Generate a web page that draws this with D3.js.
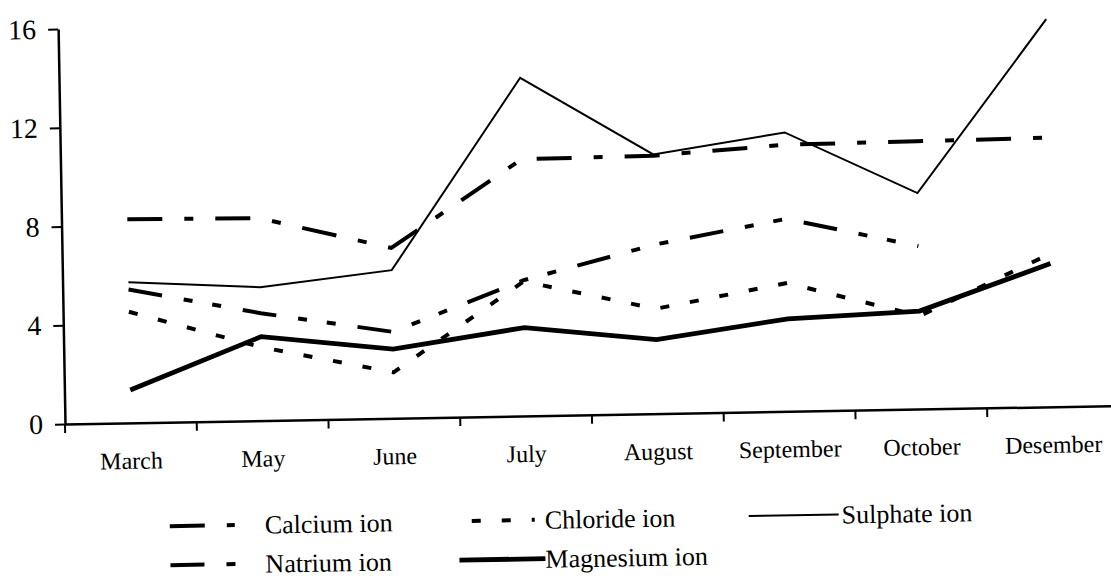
<!DOCTYPE html>
<html>
<head>
<meta charset="utf-8">
<script src="https://cdn.jsdelivr.net/npm/d3@7"></script>
<style>
  html, body { margin: 0; padding: 0; background: #fff; }
  svg { display: block; }
  svg text { font-family: "Liberation Serif", "Times New Roman", serif; }
</style>
</head>
<body>
<div id="chart"></div>
<script>
// Data
const categories = ["March", "May", "June", "July", "August", "September", "October", "Desember"];
const calcium   = [8.25, 8.2, 6.9, 10.4, 10.45, 10.8, 10.85, 10.9];
const natrium   = [5.4, 4.35, 3.5, 5.5, 6.85, 7.8, 6.6, null];
const chloride  = [4.5, 2.97, 1.86, 5.45, 4.25, 5.2, 3.77, 6.2];
const sulphate  = [5.7, 5.4, 6.0, 13.7, 10.5, 11.3, 8.75, 15.7];
const magnesium = [1.33, 3.4, 2.8, 3.58, 3.0, 3.75, 3.97, 5.8];
const yTicks = [0, 4, 8, 12, 16];

const width = 1111;
const height = 580;
const font = "'Liberation Serif', 'Times New Roman', serif";

const series = [
  { name: "Calcium ion",   values: calcium,   width: 4,   dash: "35,22,9,22" },
  { name: "Natrium ion",   values: natrium,   width: 4,   dash: "34,22,9,20,9,22" },
  { name: "Chloride ion",  values: chloride,  width: 4,   dash: "9,21" },
  { name: "Sulphate ion",  values: sulphate,  width: 2,   dash: null },
  { name: "Magnesium ion", values: magnesium, width: 4.8, dash: null }
];

const svg = d3.select("#chart").append("svg")
  .attr("width", width)
  .attr("height", height);

// the scan is tilted about one degree, so the whole figure is rotated around the origin
const g = svg.append("g")
  .attr("transform", "translate(65,424) rotate(-1.0)");

const plotW = 1054;
const plotH = 395;

const x = d3.scaleBand().domain(categories).range([0, plotW]);
const y = d3.scaleLinear().domain([0, 16]).range([0, -plotH]);

// y axis
const yAxis = g.append("g")
  .call(d3.axisLeft(y).tickValues(yTicks).tickSize(10).tickSizeOuter(0).tickPadding(12));
yAxis.select(".domain").attr("stroke", "#000").attr("stroke-width", 2.5);
yAxis.selectAll(".tick line").attr("stroke", "#000").attr("stroke-width", 2);
yAxis.selectAll(".tick text")
  .style("font-family", font)
  .style("font-size", "28px")
  .attr("fill", "#000");

// x axis (labels centred on bands, ticks on band boundaries)
const xAxis = g.append("g")
  .call(d3.axisBottom(x).tickSize(0).tickSizeOuter(0).tickPadding(29));
xAxis.select(".domain").attr("stroke", "#000").attr("stroke-width", 2.5);
xAxis.selectAll(".tick text")
  .style("font-family", font)
  .style("font-size", "24px")
  .attr("fill", "#000");

g.selectAll(".xtick")
  .data(categories)
  .join("line")
  .attr("class", "xtick")
  .attr("x1", d => x(d))
  .attr("x2", d => x(d))
  .attr("y1", 0)
  .attr("y2", 9)
  .attr("stroke", "#000")
  .attr("stroke-width", 2);

// lines
const line = d3.line()
  .defined(d => d != null)
  .x((d, i) => x(categories[i]) + x.bandwidth() / 2)
  .y(d => y(d));

series.forEach(s => {
  g.append("path")
    .datum(s.values)
    .attr("fill", "none")
    .attr("stroke", "#000")
    .attr("stroke-width", s.width)
    .attr("stroke-dasharray", s.dash)
    .attr("stroke-linejoin", "miter")
    .attr("d", line);
});

// legend (inside the tilted group, like the rest of the scan)
const legendItems = [
  { s: series[0], x1: 103, x2: 168, tx: 198, ty: 104 },
  { s: series[2], x1: 405, x2: 468, tx: 478, ty: 104 },
  { s: series[3], x1: 682, x2: 772, tx: 775, ty: 104 },
  { s: series[1], x1: 103, x2: 168, tx: 198, ty: 143 },
  { s: series[4], x1: 392, x2: 478, tx: 478, ty: 143 }
];

const legend = g.append("g");
legendItems.forEach(it => {
  legend.append("line")
    .attr("x1", it.x1)
    .attr("x2", it.x2)
    .attr("y1", it.ty)
    .attr("y2", it.ty)
    .attr("stroke", "#000")
    .attr("stroke-width", it.s.width)
    .attr("stroke-dasharray", it.s.dash);
  legend.append("text")
    .attr("x", it.tx)
    .attr("y", it.ty)
    .attr("dy", "0.35em")
    .style("font-family", font)
    .style("font-size", "26px")
    .attr("fill", "#000")
    .text(it.s.name);
});
</script>
</body>
</html>
